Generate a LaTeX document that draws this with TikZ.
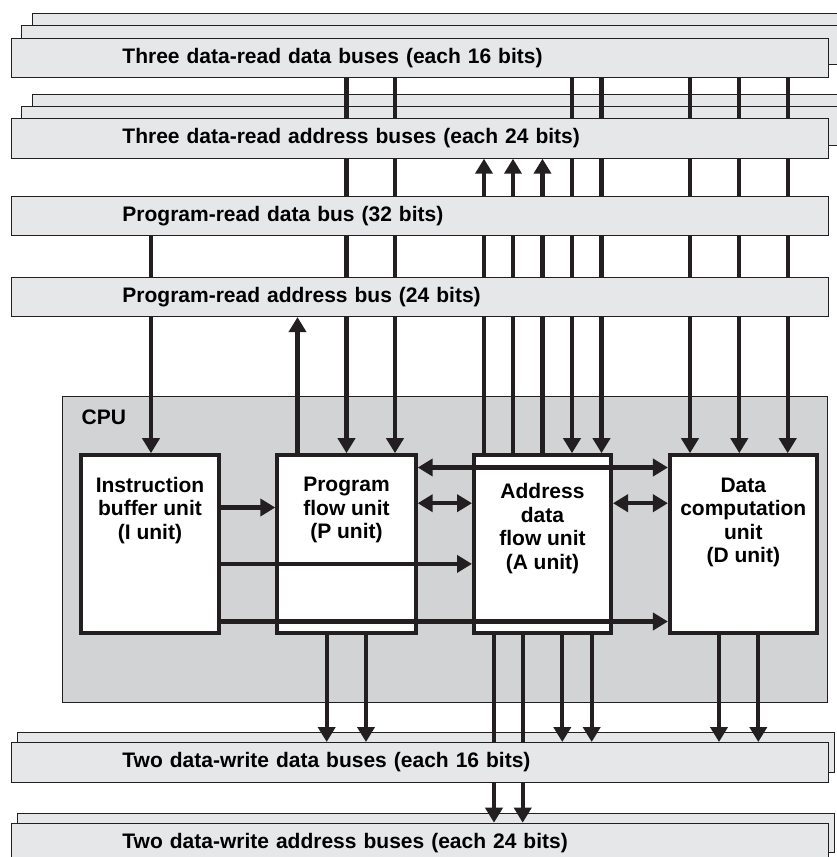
\documentclass[tikz,border=0pt]{standalone}
\usepackage{fontspec}
\setmainfont{Liberation Sans}
\usepackage{tikz}
\usetikzlibrary{arrows.meta}
\definecolor{ink}{HTML}{231F20}
\definecolor{busgray}{HTML}{E6E7E8}
\definecolor{cpugray}{HTML}{D1D3D4}
\pgfdeclarelayer{bg}
\pgfdeclarelayer{units}
\pgfdeclarelayer{top}
\pgfsetlayers{bg,units,main,top}

\begin{document}
\begin{tikzpicture}[x=1pt,y=-1pt,
    font=\fontsize{21pt}{23.5pt}\selectfont\bfseries,
    >={Triangle[width=17pt,length=15pt]},
    bus/.style={draw=ink,fill=busgray,line width=0.9pt,anchor=north west,minimum height=39.5pt,inner xsep=111pt,text width=594.7pt,align=left},
    busback/.style={draw=ink,fill=busgray,line width=0.9pt},
    unit/.style={draw=ink,fill=white,line width=4pt,minimum width=138pt,minimum height=178pt},
    utext/.style={align=center,inner sep=0pt},
    wire/.style={draw=ink,line width=4.3pt}]
    \useasboundingbox (0,0) rectangle (837,857);
    \begin{pgfonlayer}{top}
        \node[bus] (rdd) at (11,37.5) {Three data-read data buses (each 16 bits)};
        \node[bus] (rda) at (11,118.3) {Three data-read address buses (each 24 bits)};
        \node[bus] (prd) at (11,195.7) {Program-read data bus (32 bits)};
        \node[bus] (pra) at (11,276.7) {Program-read address bus (24 bits)};
        \node[bus] (wdd) at (11,742) {Two data-write data buses (each 16 bits)};
        \node[bus] (wda) at (11,822.7) {Two data-write address buses (each 24 bits)};
    \end{pgfonlayer}
    \begin{pgfonlayer}{units}
        \node[unit] (iu) at (150,544.2) {};
        \node[unit,minimum width=138.4pt] (pu) at (346.5,544.2) {};
        \node[unit,minimum width=137pt] (au) at (542.5,544.2) {};
        \node[unit,minimum width=146.7pt] (du) at (743.3,544.2) {};
        \node[utext] (itxt) at ([yshift=-57pt]iu.north) {Instruction\\buffer unit\\(I unit)};
        \node[utext] (ptxt) at ([yshift=-57pt]pu.north) {Program\\flow unit\\(P unit)};
        \node[utext] (atxt) at ([yshift=-75.5pt]au.north) {Address\\data\\flow unit\\(A unit)};
        \node[utext] (dtxt) at ([yshift=-69pt]du.north) {Data\\computation\\unit\\(D unit)};
    \end{pgfonlayer}
    \begin{pgfonlayer}{bg}
        \node[draw=ink,fill=cpugray,line width=0.9pt,anchor=north west,minimum width=765pt,minimum height=306pt] (cpu) at (62,396) {};
        \foreach \s in {rdd,rda} {
            \draw[busback] ([xshift=21.3pt,yshift=24.3pt]\s.north west) rectangle ++(830,39.5);
            \draw[busback] ([xshift=10.7pt,yshift=12.2pt]\s.north west) rectangle ++(830,39.5);
        }
        \foreach \s in {wdd,wda}
            \draw[busback] ([xshift=6.7pt,yshift=9.3pt]\s.north west) rectangle ++(816.7,39.5);
    \end{pgfonlayer}
    \node[anchor=west,inner sep=0pt] (cpulbl) at ([xshift=19.5pt,yshift=-21.5pt]cpu.north west) {CPU};
    \foreach \dx in {0pt,48.5pt}
        \draw[wire,->] ([xshift=\dx]pu.north |- rdd.south) -- ([xshift=\dx]pu.north);
    \foreach \dx in {29.5pt,59pt}
        \draw[wire,->] ([xshift=\dx]au.north |- rdd.south) -- ([xshift=\dx]au.north);
    \foreach \dx in {-53.3pt,-4pt,44.4pt}
        \draw[wire,->] ([xshift=\dx]du.north |- rdd.south) -- ([xshift=\dx]du.north);
    \foreach \dx in {-58.5pt,-29.5pt,0pt}
        \draw[wire,->] ([xshift=\dx]au.north) -- ([xshift=\dx]au.north |- rda.south);
    \draw[wire,->] ([xshift=1pt]iu.north |- prd.south) -- ([xshift=1pt]iu.north);
    \draw[wire,->] ([xshift=-49pt]pu.north) -- ([xshift=-49pt]pu.north |- pra.south);
    \foreach \dx in {-19.8pt,19.5pt}
        \draw[wire,->] ([xshift=\dx]pu.south) -- ([xshift=\dx]pu.south |- wdd.north);
    \foreach \dx in {19.8pt,49.2pt}
        \draw[wire,->] ([xshift=\dx]au.south) -- ([xshift=\dx]au.south |- wdd.north);
    \foreach \dx in {-48.5pt,-19.8pt}
        \draw[wire,->] ([xshift=\dx]au.south) -- ([xshift=\dx]au.south |- wda.north);
    \foreach \dx in {-24.3pt,15pt}
        \draw[wire,->] ([xshift=\dx]du.south) -- ([xshift=\dx]du.south |- wdd.north);
    \draw[wire,->] ([yshift=-54.3pt]iu.north east) -- ([yshift=-54.3pt]pu.north west);
    \draw[wire,->] ([yshift=-110.7pt]iu.north east) -- ([yshift=-110.7pt]au.north west);
    \draw[wire,->] ([yshift=-168.3pt]iu.north east) -- ([yshift=-168.3pt]du.north west);
    \draw[wire,<->] ([yshift=-14.3pt]pu.north east) -- ([yshift=-14.3pt]du.north west);
    \draw[wire,<->] ([yshift=-50pt]pu.north east) -- ([yshift=-50pt]au.north west);
    \draw[wire,<->] ([yshift=-50pt]au.north east) -- ([yshift=-50pt]du.north west);
\end{tikzpicture}
\end{document}
